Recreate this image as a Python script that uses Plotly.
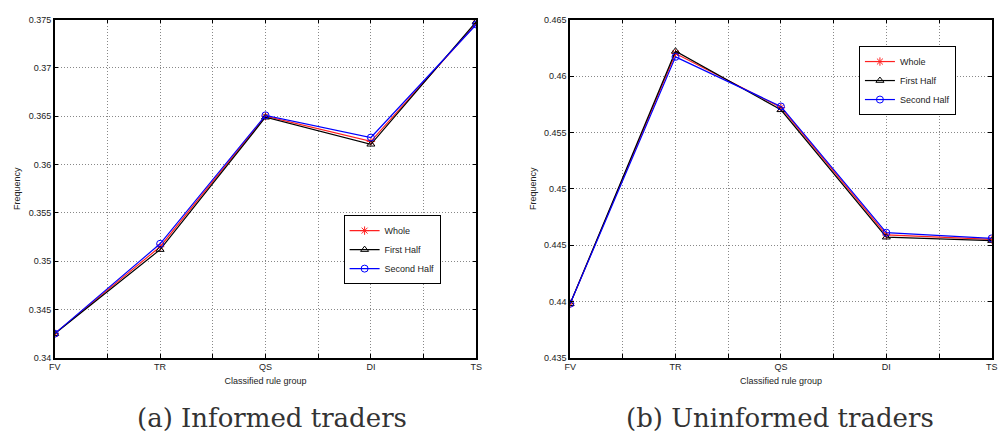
import plotly.graph_objects as go

categories = ["FV", "TR", "QS", "DI", "TS"]

informed_whole = [0.3425, 0.3515, 0.3650, 0.3624, 0.3746]
informed_first = [0.3425, 0.3512, 0.3649, 0.3621, 0.3748]
informed_second = [0.3425, 0.3518, 0.3651, 0.3628, 0.3745]

uninformed_whole = [0.4398, 0.4620, 0.4572, 0.4459, 0.4455]
uninformed_first = [0.4398, 0.4622, 0.4570, 0.4457, 0.4454]
uninformed_second = [0.4398, 0.4617, 0.4573, 0.4461, 0.4456]

series_names = ["Whole", "First Half", "Second Half"]
series_colors = ["#ff2020", "#000000", "#0000ff"]
series_symbols = ["asterisk-open", "triangle-up-open", "circle-open"]

yticks_left = [0.34, 0.345, 0.35, 0.355, 0.36, 0.365, 0.37, 0.375]
ytext_left = ["0.34", "0.345", "0.35", "0.355", "0.36", "0.365", "0.37", "0.375"]
yticks_right = [0.435, 0.44, 0.445, 0.45, 0.455, 0.46, 0.465]
ytext_right = ["0.435", "0.44", "0.445", "0.45", "0.455", "0.46", "0.465"]

captions = ["(a) Informed traders", "(b) Uninformed traders"]

xpos = list(range(len(categories)))
xtickvals = [i * 0.5 for i in range(2 * len(categories) - 1)]
xticktext = [categories[i // 2] if i % 2 == 0 else "" for i in range(len(xtickvals))]

W, H = 999, 441
fig = go.Figure()

panels = [
    ([informed_whole, informed_first, informed_second], "x", "y", "legend"),
    ([uninformed_whole, uninformed_first, uninformed_second], "x2", "y2", "legend2"),
]
for data, xa, ya, lg in panels:
    for name, vals, col, sym in zip(series_names, data, series_colors, series_symbols):
        fig.add_trace(go.Scatter(
            x=xpos, y=vals, name=name, mode="lines+markers",
            line=dict(color=col, width=1.2),
            marker=dict(symbol=sym, size=7, color=col, line=dict(color=col, width=1)),
            xaxis=xa, yaxis=ya, legend=lg,
        ))

font_sans = "Liberation Sans, Arial, sans-serif"
tickfont = dict(family=font_sans, size=9, color="#222")
grid = dict(showgrid=True, gridcolor="#888", griddash="1px,2px", gridwidth=1)

def xaxis_cfg(x0, x1, anchor):
    return dict(
        domain=[x0 / W, x1 / W], range=[0, len(categories) - 1], anchor=anchor,
        tickmode="array", tickvals=xtickvals, ticktext=xticktext,
        ticks="inside", ticklen=4, tickcolor="black",
        showline=True, linecolor="black", linewidth=1.5, mirror="ticks",
        zeroline=False, tickfont=tickfont, **grid,
        title=dict(text="Classified rule group", font=dict(family=font_sans, size=9, color="#222"), standoff=6),
    )

def yaxis_cfg(tv, tt, rng, anchor):
    return dict(
        domain=[1 - 361 / H, 1 - 15 / H], range=rng, anchor=anchor,
        tickmode="array", tickvals=tv, ticktext=tt,
        ticks="inside", ticklen=4, tickcolor="black",
        showline=True, linecolor="black", linewidth=1.5, mirror="ticks",
        zeroline=False, tickfont=tickfont, **grid,
        title=dict(text="Frequency", font=dict(family=font_sans, size=9, color="#222"), standoff=6),
    )

legend_common = dict(
    bgcolor="white", bordercolor="black", borderwidth=1,
    font=dict(family=font_sans, size=9, color="#222"),
    xanchor="left", yanchor="top", itemwidth=30, tracegroupgap=0,
)

fig.update_layout(
    width=W, height=H,
    margin=dict(l=0, r=0, t=0, b=0),
    paper_bgcolor="white", plot_bgcolor="white",
    xaxis=xaxis_cfg(49.3, 476, "y"),
    yaxis=yaxis_cfg(yticks_left, ytext_left, [0.34, 0.375], "x"),
    xaxis2=xaxis_cfg(571, 997.7, "y2"),
    yaxis2=yaxis_cfg(yticks_right, ytext_right, [0.435, 0.465], "x2"),
    legend=dict(x=341.7 / W, y=1 - 215 / H, **legend_common),
    legend2=dict(x=863.3 / W, y=1 - 42 / H, **legend_common),
    showlegend=True,
)

for cap, cx in zip(captions, [269.5, 783.4]):
    fig.add_annotation(
        text=cap, x=cx / W, y=1 - 423 / H, xref="paper", yref="paper",
        xanchor="center", yanchor="middle", showarrow=False,
        font=dict(family="DejaVu Serif, serif", size=26, color="#333"),
    )

fig.write_html("out.html")
